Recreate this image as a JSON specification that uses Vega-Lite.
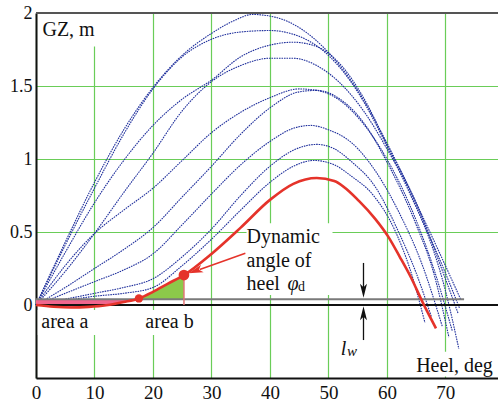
{
  "$schema": "https://vega.github.io/schema/vega-lite/v6.json",
  "width": 462,
  "height": 365,
  "autosize": "none",
  "padding": {"left": 36, "top": 13, "right": 0, "bottom": 23},
  "config": {
    "view": {"stroke": null},
    "font": "Liberation Serif",
    "axisX": {"labelFont": "Liberation Serif", "labelFontSize": 19, "labelColor": "#111111", "labelPadding": 5, "labelFlush": false, "ticks": false, "domainColor": "#111111", "domainWidth": 2, "gridColor": "#6acd58", "gridWidth": 1.2},
    "axisY": {"labelFont": "Liberation Serif", "labelFontSize": 18, "labelColor": "#111111", "labelPadding": 4, "ticks": false, "domainColor": "#111111", "domainWidth": 2, "gridColor": "#6acd58", "gridWidth": 1.2}
  },
  "datasets": {
    "curves": [
      {"s":"A","h":0,"gz":0},{"s":"A","h":5,"gz":0.43},{"s":"A","h":10,"gz":0.84},{"s":"A","h":15,"gz":1.2},{"s":"A","h":20,"gz":1.49},{"s":"A","h":25,"gz":1.71},{"s":"A","h":30,"gz":1.86},{"s":"A","h":34,"gz":1.95},{"s":"A","h":37,"gz":1.99},{"s":"A","h":41,"gz":1.97},{"s":"A","h":45,"gz":1.9},{"s":"A","h":50,"gz":1.73},{"s":"A","h":55,"gz":1.47},{"s":"A","h":60,"gz":1.11},{"s":"A","h":65,"gz":0.7},{"s":"A","h":70,"gz":0.27},{"s":"A","h":72.6,"gz":0.04},
      {"s":"B","h":0,"gz":0},{"s":"B","h":5,"gz":0.41},{"s":"B","h":10,"gz":0.8},{"s":"B","h":15,"gz":1.17},{"s":"B","h":20,"gz":1.48},{"s":"B","h":25,"gz":1.7},{"s":"B","h":30,"gz":1.82},{"s":"B","h":35,"gz":1.87},{"s":"B","h":40,"gz":1.88},{"s":"B","h":45,"gz":1.84},{"s":"B","h":50,"gz":1.71},{"s":"B","h":55,"gz":1.46},{"s":"B","h":60,"gz":1.09},{"s":"B","h":65,"gz":0.67},{"s":"B","h":70,"gz":0.22},{"s":"B","h":72.4,"gz":-0.02},
      {"s":"C","h":0,"gz":0},{"s":"C","h":5,"gz":0.36},{"s":"C","h":10,"gz":0.7},{"s":"C","h":15,"gz":0.99},{"s":"C","h":20,"gz":1.23},{"s":"C","h":25,"gz":1.41},{"s":"C","h":30,"gz":1.54},{"s":"C","h":35,"gz":1.7},{"s":"C","h":40,"gz":1.78},{"s":"C","h":44,"gz":1.8},{"s":"C","h":48,"gz":1.77},{"s":"C","h":52,"gz":1.65},{"s":"C","h":56,"gz":1.42},{"s":"C","h":60,"gz":1.1},{"s":"C","h":65,"gz":0.7},{"s":"C","h":70,"gz":0.18},{"s":"C","h":72.2,"gz":-0.06},
      {"s":"D","h":0,"gz":0},{"s":"D","h":5,"gz":0.23},{"s":"D","h":10,"gz":0.49},{"s":"D","h":15,"gz":0.77},{"s":"D","h":20,"gz":1.04},{"s":"D","h":25,"gz":1.33},{"s":"D","h":30,"gz":1.53},{"s":"D","h":35,"gz":1.64},{"s":"D","h":40,"gz":1.69},{"s":"D","h":44,"gz":1.69},{"s":"D","h":48,"gz":1.64},{"s":"D","h":52,"gz":1.52},{"s":"D","h":56,"gz":1.33},{"s":"D","h":60,"gz":1.07},{"s":"D","h":65,"gz":0.68},{"s":"D","h":70,"gz":0.1},{"s":"D","h":72.3,"gz":-0.3},
      {"s":"E","h":0,"gz":0},{"s":"E","h":5,"gz":0.27},{"s":"E","h":10,"gz":0.49},{"s":"E","h":15,"gz":0.65},{"s":"E","h":20,"gz":0.8},{"s":"E","h":25,"gz":0.99},{"s":"E","h":30,"gz":1.18},{"s":"E","h":35,"gz":1.32},{"s":"E","h":40,"gz":1.42},{"s":"E","h":45,"gz":1.48},{"s":"E","h":48,"gz":1.47},{"s":"E","h":52,"gz":1.4},{"s":"E","h":56,"gz":1.24},{"s":"E","h":60,"gz":1.0},{"s":"E","h":65,"gz":0.58},{"s":"E","h":68,"gz":0.25},{"s":"E","h":71.2,"gz":-0.18},
      {"s":"F","h":0,"gz":0},{"s":"F","h":5,"gz":0.12},{"s":"F","h":10,"gz":0.25},{"s":"F","h":15,"gz":0.38},{"s":"F","h":20,"gz":0.53},{"s":"F","h":25,"gz":0.74},{"s":"F","h":30,"gz":0.95},{"s":"F","h":35,"gz":1.17},{"s":"F","h":40,"gz":1.35},{"s":"F","h":45,"gz":1.46},{"s":"F","h":48,"gz":1.47},{"s":"F","h":52,"gz":1.41},{"s":"F","h":56,"gz":1.25},{"s":"F","h":60,"gz":0.98},{"s":"F","h":65,"gz":0.55},{"s":"F","h":68,"gz":0.22},{"s":"F","h":70.6,"gz":-0.22},
      {"s":"G","h":0,"gz":0},{"s":"G","h":5,"gz":0.08},{"s":"G","h":10,"gz":0.16},{"s":"G","h":15,"gz":0.24},{"s":"G","h":20,"gz":0.35},{"s":"G","h":25,"gz":0.55},{"s":"G","h":30,"gz":0.76},{"s":"G","h":35,"gz":0.96},{"s":"G","h":40,"gz":1.12},{"s":"G","h":44,"gz":1.21},{"s":"G","h":47,"gz":1.23},{"s":"G","h":50,"gz":1.2},{"s":"G","h":54,"gz":1.11},{"s":"G","h":58,"gz":0.92},{"s":"G","h":62,"gz":0.64},{"s":"G","h":66,"gz":0.28},{"s":"G","h":69.5,"gz":-0.15},
      {"s":"H","h":0,"gz":0},{"s":"H","h":5,"gz":0.04},{"s":"H","h":10,"gz":0.08},{"s":"H","h":15,"gz":0.12},{"s":"H","h":20,"gz":0.18},{"s":"H","h":25,"gz":0.33},{"s":"H","h":30,"gz":0.52},{"s":"H","h":35,"gz":0.75},{"s":"H","h":40,"gz":0.95},{"s":"H","h":44,"gz":1.06},{"s":"H","h":48,"gz":1.1},{"s":"H","h":51,"gz":1.07},{"s":"H","h":54,"gz":0.98},{"s":"H","h":58,"gz":0.81},{"s":"H","h":62,"gz":0.5},{"s":"H","h":65,"gz":0.22},{"s":"H","h":67.6,"gz":-0.08},
      {"s":"I","h":0,"gz":0},{"s":"I","h":5,"gz":0.03},{"s":"I","h":10,"gz":0.06},{"s":"I","h":15,"gz":0.08},{"s":"I","h":20,"gz":0.12},{"s":"I","h":25,"gz":0.27},{"s":"I","h":30,"gz":0.45},{"s":"I","h":35,"gz":0.65},{"s":"I","h":40,"gz":0.84},{"s":"I","h":44,"gz":0.95},{"s":"I","h":47.5,"gz":0.99},{"s":"I","h":51,"gz":0.96},{"s":"I","h":54,"gz":0.88},{"s":"I","h":57.5,"gz":0.76},{"s":"I","h":61.5,"gz":0.5},{"s":"I","h":64,"gz":0.24},{"s":"I","h":66.5,"gz":-0.12}
    ],
    "red": [
      {"h":0,"gz":0},{"h":3,"gz":-0.012},{"h":6,"gz":-0.017},{"h":9,"gz":-0.013},{"h":12,"gz":-0.002},{"h":15,"gz":0.02},{"h":17.6,"gz":0.045},{"h":20,"gz":0.09},{"h":22.5,"gz":0.145},{"h":25.3,"gz":0.205},{"h":30,"gz":0.35},{"h":35,"gz":0.53},{"h":40,"gz":0.72},{"h":44,"gz":0.83},{"h":48,"gz":0.87},{"h":51,"gz":0.85},{"h":55.3,"gz":0.71},{"h":58,"gz":0.59},{"h":60.2,"gz":0.47},{"h":62.2,"gz":0.33},{"h":64.1,"gz":0.19},{"h":66.1,"gz":0.02},{"h":68.4,"gz":-0.16}
    ],
    "areaA": [
      {"h":0,"gz":0},{"h":3,"gz":-0.012},{"h":6,"gz":-0.017},{"h":9,"gz":-0.013},{"h":12,"gz":-0.002},{"h":15,"gz":0.02},{"h":17.6,"gz":0.045}
    ],
    "areaB": [
      {"h":17.6,"gz":0.045},{"h":20,"gz":0.09},{"h":22.5,"gz":0.145},{"h":25.3,"gz":0.205}
    ],
    "masks": [
      {"h":0.6,"h2":11.6,"gz":1.77,"gz2":1.995},
      {"h":0.3,"h2":27.5,"gz":-0.034,"gz2":-0.205},
      {"h":36.0,"h2":50.7,"gz":0.56,"gz2":0.068},
      {"h":64.5,"h2":78.9,"gz":-0.32,"gz2":-0.49}
    ]
  },
  "layer": [
    {
      "data": {"name": "masks"},
      "mark": {"type": "rect", "color": "white"},
      "encoding": {
        "x": {"field": "h", "type": "quantitative", "title": null,
          "scale": {"domain": [0, 79], "nice": false, "zero": false},
          "axis": {"values": [0,10,20,30,40,50,60,70], "grid": true}},
        "x2": {"field": "h2"},
        "y": {"field": "gz", "type": "quantitative", "title": null,
          "scale": {"domain": [-0.5, 2], "nice": false, "zero": false},
          "axis": {"values": [0,0.5,1,1.5,2], "format": "~g", "grid": true}},
        "y2": {"field": "gz2"}
      }
    },
    {
      "data": {"name": "curves"},
      "mark": {"type": "line", "interpolate": "monotone", "color": "#1f2f9c", "strokeWidth": 1.1, "strokeDash": [1.6, 0.9]},
      "encoding": {
        "x": {"field": "h", "type": "quantitative", "title": null},
        "y": {"field": "gz", "type": "quantitative", "title": null},
        "detail": {"field": "s"}
      }
    },
    {
      "data": {"name": "areaA"},
      "mark": {"type": "area", "interpolate": "monotone", "color": "#f0668e"},
      "encoding": {
        "x": {"field": "h", "type": "quantitative", "title": null},
        "y": {"field": "gz", "type": "quantitative", "title": null},
        "y2": {"datum": 0.04}
      }
    },
    {
      "data": {"name": "areaB"},
      "mark": {"type": "area", "interpolate": "monotone", "color": "#8cc94a"},
      "encoding": {
        "x": {"field": "h", "type": "quantitative", "title": null},
        "y": {"field": "gz", "type": "quantitative", "title": null},
        "y2": {"datum": 0.04}
      }
    },
    {
      "data": {"values": [{}]},
      "mark": {"type": "rule", "color": "#7a7a7a", "strokeWidth": 2},
      "encoding": {"x": {"datum": 0}, "x2": {"datum": 73.2}, "y": {"datum": 0.04}}
    },
    {
      "data": {"values": [{}]},
      "mark": {"type": "rule", "color": "#111111", "strokeWidth": 2},
      "encoding": {"y": {"datum": 0}}
    },
    {
      "data": {"values": [{}]},
      "mark": {"type": "rule", "color": "#555555", "strokeWidth": 2},
      "encoding": {"y": {"datum": 2}}
    },
    {
      "data": {"values": [{}]},
      "mark": {"type": "rule", "color": "#e07575", "strokeWidth": 1.5},
      "encoding": {"x": {"datum": 25.3}, "y": {"datum": 0}, "y2": {"datum": 0.2}}
    },
    {
      "data": {"name": "red"},
      "mark": {"type": "line", "interpolate": "monotone", "color": "#e5332a", "strokeWidth": 2.6},
      "encoding": {
        "x": {"field": "h", "type": "quantitative", "title": null},
        "y": {"field": "gz", "type": "quantitative", "title": null}
      }
    },
    {
      "data": {"values": [{"h": 17.6, "gz": 0.045}]},
      "mark": {"type": "point", "filled": true, "color": "#e5332a", "size": 70, "opacity": 1},
      "encoding": {
        "x": {"field": "h", "type": "quantitative", "title": null},
        "y": {"field": "gz", "type": "quantitative", "title": null}
      }
    },
    {
      "data": {"values": [{"h": 25.3, "gz": 0.205}]},
      "mark": {"type": "point", "filled": true, "color": "#e5332a", "size": 115, "opacity": 1},
      "encoding": {
        "x": {"field": "h", "type": "quantitative", "title": null},
        "y": {"field": "gz", "type": "quantitative", "title": null}
      }
    },
    {
      "data": {"values": [{}]},
      "mark": {"type": "rule", "color": "#e5332a", "strokeWidth": 1.6},
      "encoding": {"x": {"datum": 35.8}, "x2": {"datum": 28.0}, "y": {"datum": 0.354}, "y2": {"datum": 0.243}}
    },
    {
      "data": {"values": [{"h": 26.1, "gz": 0.217}]},
      "mark": {"type": "point", "filled": true, "color": "#e5332a", "opacity": 1, "size": 210, "angle": 250.8, "shape": "M0,0L-0.55,2L0,1.5L0.55,2Z"},
      "encoding": {
        "x": {"field": "h", "type": "quantitative", "title": null},
        "y": {"field": "gz", "type": "quantitative", "title": null}
      }
    },
    {
      "data": {"values": [{}]},
      "mark": {"type": "rule", "color": "#111111", "strokeWidth": 1.3},
      "encoding": {"x": {"datum": 56.0}, "y": {"datum": 0.288}, "y2": {"datum": 0.1}}
    },
    {
      "data": {"values": [{}]},
      "mark": {"type": "rule", "color": "#111111", "strokeWidth": 1.3},
      "encoding": {"x": {"datum": 56.0}, "y": {"datum": -0.24}, "y2": {"datum": -0.06}}
    },
    {
      "data": {"values": [{"h": 56.0, "gz": 0.05}]},
      "mark": {"type": "point", "filled": true, "color": "#111111", "opacity": 1, "size": 196, "shape": "M0,0L-0.5,-2L0,-1.5L0.5,-2Z"},
      "encoding": {
        "x": {"field": "h", "type": "quantitative", "title": null},
        "y": {"field": "gz", "type": "quantitative", "title": null}
      }
    },
    {
      "data": {"values": [{"h": 56.0, "gz": -0.008}]},
      "mark": {"type": "point", "filled": true, "color": "#111111", "opacity": 1, "size": 196, "shape": "M0,0L-0.5,2L0,1.5L0.5,2Z"},
      "encoding": {
        "x": {"field": "h", "type": "quantitative", "title": null},
        "y": {"field": "gz", "type": "quantitative", "title": null}
      }
    },
    {
      "data": {"values": [
        {"t": "GZ, m", "h": 1.1, "gz": 1.84},
        {"t": "area a", "h": 0.9, "gz": -0.158},
        {"t": "area b", "h": 18.7, "gz": -0.158},
        {"t": "Dynamic", "h": 36.0, "gz": 0.422},
        {"t": "angle of", "h": 36.0, "gz": 0.262},
        {"t": "heel", "h": 36.0, "gz": 0.103},
        {"t": "Heel, deg", "h": 65.0, "gz": -0.459}
      ]},
      "mark": {"type": "text", "align": "left", "baseline": "alphabetic", "font": "Liberation Serif", "fontSize": 20, "color": "#111111"},
      "encoding": {
        "x": {"field": "h", "type": "quantitative", "title": null},
        "y": {"field": "gz", "type": "quantitative", "title": null},
        "text": {"field": "t"}
      }
    },
    {
      "data": {"values": [
        {"t": "φ", "h": 43.0, "gz": 0.103},
        {"t": "l", "h": 52.1, "gz": -0.342}
      ]},
      "mark": {"type": "text", "align": "left", "baseline": "alphabetic", "font": "Liberation Serif", "fontSize": 20, "fontStyle": "italic", "color": "#111111"},
      "encoding": {
        "x": {"field": "h", "type": "quantitative", "title": null},
        "y": {"field": "gz", "type": "quantitative", "title": null},
        "text": {"field": "t"}
      }
    },
    {
      "data": {"values": [{"t": "d", "h": 44.8, "gz": 0.096}]},
      "mark": {"type": "text", "align": "left", "baseline": "alphabetic", "font": "Liberation Serif", "fontSize": 14, "color": "#111111"},
      "encoding": {
        "x": {"field": "h", "type": "quantitative", "title": null},
        "y": {"field": "gz", "type": "quantitative", "title": null},
        "text": {"field": "t"}
      }
    },
    {
      "data": {"values": [{"t": "w", "h": 53.2, "gz": -0.35}]},
      "mark": {"type": "text", "align": "left", "baseline": "alphabetic", "font": "Liberation Serif", "fontSize": 15, "fontStyle": "italic", "color": "#111111"},
      "encoding": {
        "x": {"field": "h", "type": "quantitative", "title": null},
        "y": {"field": "gz", "type": "quantitative", "title": null},
        "text": {"field": "t"}
      }
    }
  ]
}
